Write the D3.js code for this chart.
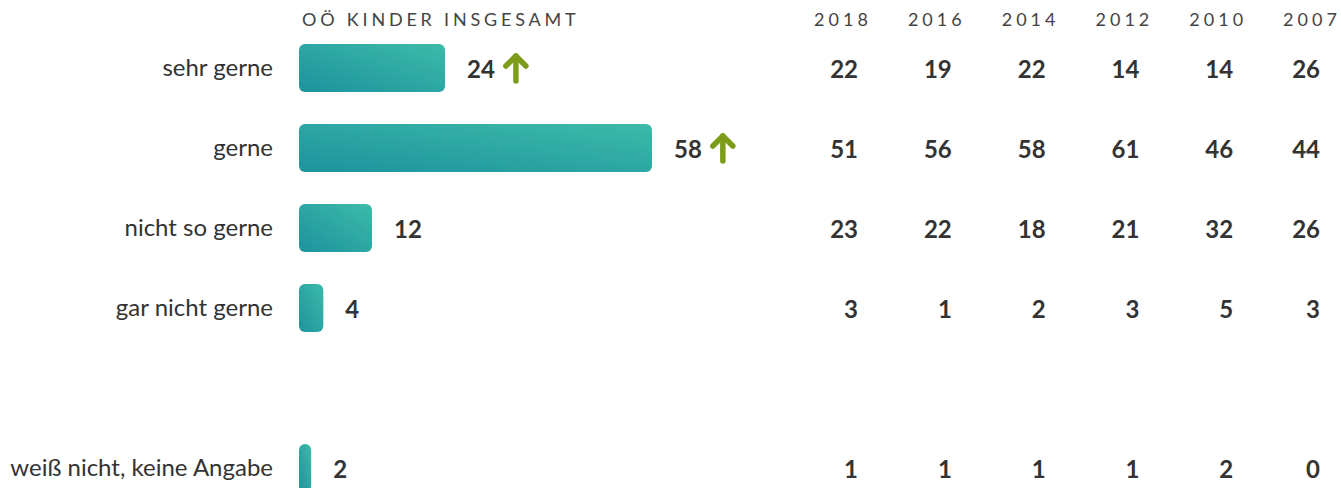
<!DOCTYPE html>
<html>
<head>
<meta charset="utf-8">
<script src="https://cdn.jsdelivr.net/npm/d3@7"></script>
<style>
  body { margin: 0; background: #fff; }
  svg { display: block; font-family: Lato, "Open Sans", sans-serif; }
</style>
</head>
<body>
<svg width="1341" height="488"></svg>
<script>
// data
var categories = ['sehr gerne', 'gerne', 'nicht so gerne', 'gar nicht gerne', 'weiß nicht, keine Angabe'];
var current = [24, 58, 12, 4, 2];
var trend = ['up', 'up', null, null, null];
var years = ['2018', '2016', '2014', '2012', '2010', '2007'];
var v2018 = [22, 51, 23, 3, 1];
var v2016 = [19, 56, 22, 1, 1];
var v2014 = [22, 58, 18, 2, 1];
var v2012 = [14, 61, 21, 3, 1];
var v2010 = [14, 46, 32, 5, 2];
var v2007 = [26, 44, 26, 3, 0];
var pastValues = [v2018, v2016, v2014, v2012, v2010, v2007];
var title = 'OÖ KINDER INSGESAMT';

var svg = d3.select('svg');

// gap row between "gar nicht gerne" and "weiß nicht"
var rowKeys = categories.slice(0, 4).concat(['__gap'], categories.slice(4));

var y = d3.scaleBand()
    .domain(rowKeys)
    .range([28, 508])
    .paddingInner(0.4)
    .paddingOuter(0.2);

var x = d3.scaleLinear()
    .domain([0, 58])
    .range([0, 353]);

var barLeft = 299;

var yearX = d3.scalePoint()
    .domain(years)
    .range([843, 1312]);

var defs = svg.append('defs');
var grad = defs.append('linearGradient')
    .attr('id', 'barGrad')
    .attr('x1', 0).attr('y1', 1)
    .attr('x2', 1).attr('y2', 0);
grad.append('stop').attr('offset', '0%').attr('stop-color', '#1c939e');
grad.append('stop').attr('offset', '100%').attr('stop-color', '#3dbaa9');

// title + year headers
svg.append('text')
    .attr('x', 302)
    .attr('y', 26)
    .attr('fill', '#444')
    .style('font-size', '18px')
    .style('letter-spacing', '3.8px')
    .text(title);

svg.selectAll('.year')
    .data(years)
    .enter().append('text')
    .attr('class', 'year')
    .attr('x', function (d) { return yearX(d); })
    .attr('y', 26)
    .attr('text-anchor', 'middle')
    .attr('fill', '#444')
    .style('font-size', '18px')
    .style('letter-spacing', '4px')
    .text(function (d) { return d; });

var rows = svg.selectAll('.row')
    .data(categories)
    .enter().append('g')
    .attr('class', 'row')
    .attr('transform', function (d) { return 'translate(0,' + y(d) + ')'; });

var mid = y.bandwidth() / 2;

rows.append('text')
    .attr('x', 273)
    .attr('y', mid)
    .attr('dy', '0.35em')
    .attr('text-anchor', 'end')
    .attr('fill', '#333')
    .style('font-size', '24px')
    .text(function (d) { return d; });

rows.append('rect')
    .attr('x', barLeft)
    .attr('y', 0)
    .attr('width', function (d, i) { return x(current[i]); })
    .attr('height', y.bandwidth())
    .attr('rx', 6)
    .attr('fill', 'url(#barGrad)');

var labels = rows.append('text')
    .attr('x', function (d, i) { return barLeft + x(current[i]) + 22; })
    .attr('y', mid)
    .attr('dy', '0.4em')
    .attr('fill', '#333')
    .style('font-size', '24px')
    .style('font-weight', 'bold')
    .text(function (d, i) { return current[i]; });

labels.each(function (d, i) {
    if (trend[i] !== 'up') return;
    var end = barLeft + x(current[i]) + 22 + this.getComputedTextLength();
    var cx = end + 21;
    var g = d3.select(this.parentNode).append('g')
        .attr('transform', 'translate(' + cx + ',' + mid + ')')
        .attr('stroke', '#7c9c1a')
        .attr('stroke-width', 5.5)
        .attr('stroke-linecap', 'round')
        .attr('stroke-linejoin', 'round')
        .attr('fill', 'none');
    g.append('line').attr('x1', 0).attr('y1', 13).attr('x2', 0).attr('y2', -12);
    g.append('polyline').attr('points', '-10,-2 0,-12 10,-2');
});

// historical columns, right-aligned, last column held inside the page edge
pastValues.forEach(function (vals, j) {
    rows.append('text')
        .attr('x', Math.min(yearX(years[j]) + 15, 1320))
        .attr('y', mid)
        .attr('dy', '0.4em')
        .attr('text-anchor', 'end')
        .attr('fill', '#333')
        .style('font-size', '24px')
        .style('font-weight', 'bold')
        .text(function (d, i) { return vals[i]; });
});
</script>
</body>
</html>
